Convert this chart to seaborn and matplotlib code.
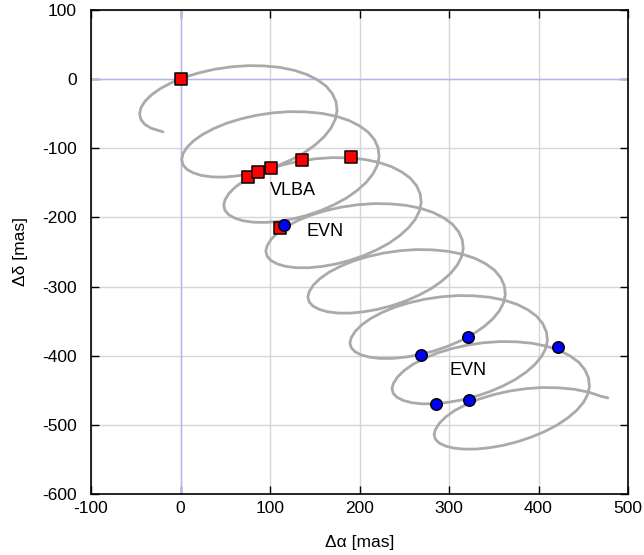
import matplotlib
matplotlib.use("Agg")
import matplotlib.pyplot as plt
import seaborn as sns
import pandas as pd

# model track (mas), one row per half loop
track_x = [-19.5, -32.9, -40.0, -44.3, -45.7,
           -44.2, -39.7, -32.3, -22.2, -9.7, 4.9, 21.2, 38.7, 56.8, 75.3, 93.5, 110.8, 126.9, 141.2, 153.2, 162.9, 169.8, 173.8,
           174.9, 173.0, 168.2, 160.7, 150.8, 138.8, 125.1, 110.2, 94.7, 78.8, 63.4, 48.7, 35.2, 23.5, 14.1, 7.0, 2.7, 1.3,
           2.8, 7.3, 14.7, 24.8, 37.3, 51.9, 68.2, 85.7, 103.8, 122.3, 140.5, 157.8, 173.9, 188.2, 200.2, 209.9, 216.8, 220.8,
           221.9, 220.0, 215.2, 207.7, 197.8, 185.8, 172.1, 157.2, 141.7, 125.8, 110.4, 95.7, 82.2, 70.5, 61.1, 54.0, 49.7, 48.3,
           49.8, 54.3, 61.7, 71.8, 84.3, 98.9, 115.2, 132.7, 150.8, 169.3, 187.5, 204.8, 220.9, 235.2, 247.2, 256.9, 263.8, 267.8,
           268.9, 267.0, 262.2, 254.7, 244.8, 232.8, 219.1, 204.2, 188.7, 172.8, 157.4, 142.7, 129.2, 117.5, 108.1, 101.0, 96.7, 95.3,
           96.8, 101.3, 108.7, 118.8, 131.3, 145.9, 162.2, 179.7, 197.8, 216.3, 234.5, 251.8, 267.9, 282.2, 294.2, 303.9, 310.8, 314.8,
           315.9, 314.0, 309.2, 301.7, 291.8, 279.8, 266.1, 251.2, 235.7, 219.8, 204.4, 189.7, 176.2, 164.5, 155.1, 148.0, 143.7, 142.3,
           143.8, 148.3, 155.7, 165.8, 178.3, 192.9, 209.2, 226.7, 244.8, 263.3, 281.5, 298.8, 314.9, 329.2, 341.2, 350.9, 357.8, 361.8,
           362.9, 361.0, 356.2, 348.7, 338.8, 326.8, 313.1, 298.2, 282.7, 266.8, 251.4, 236.7, 223.2, 211.5, 202.1, 195.0, 190.7, 189.3,
           190.8, 195.3, 202.7, 212.8, 225.3, 239.9, 256.2, 273.7, 291.8, 310.3, 328.5, 345.8, 361.9, 376.2, 388.2, 397.9, 404.8, 408.8,
           409.9, 408.0, 403.2, 395.7, 385.8, 373.8, 360.1, 345.2, 329.7, 313.8, 298.4, 283.7, 270.2, 258.5, 249.1, 242.0, 237.7, 236.3,
           237.8, 242.3, 249.7, 259.8, 272.3, 286.9, 303.2, 320.7, 338.8, 357.3, 375.5, 392.8, 408.9, 423.2, 435.2, 444.9, 451.8, 455.8,
           456.9, 455.0, 450.2, 442.7, 432.8, 420.8, 407.1, 392.2, 376.7, 360.8, 345.4, 330.7, 317.2, 305.5, 296.1, 289.0, 284.7, 283.3,
           284.8, 289.3, 296.7, 306.8, 319.3, 333.9, 350.2, 367.7, 385.8, 404.3, 422.5, 439.8, 455.9, 470.2, 477.5]
track_y = [-76.3, -70.9, -65.3, -58.2, -50.1,
           -41.3, -32.0, -22.6, -13.4, -4.9, 2.9, 9.3, 14.4, 17.8, 19.5, 19.1, 17.0, 12.8, 6.7, -1.2, -10.4, -21.3, -33.0,
           -45.5, -58.0, -70.6, -83.0, -94.8, -105.9, -115.7, -124.3, -131.2, -136.6, -139.9, -141.7, -141.4, -139.3, -135.5, -130.3, -123.7, -116.1,
           -107.8, -98.5, -89.1, -79.9, -71.4, -63.6, -57.2, -52.1, -48.7, -47.0, -47.4, -49.5, -53.7, -59.8, -67.7, -76.9, -87.8, -99.5,
           -112.0, -124.3, -136.7, -149.0, -160.6, -171.6, -181.3, -189.8, -196.8, -202.1, -205.5, -207.2, -207.0, -205.0, -201.3, -196.3, -189.8, -182.4,
           -174.3, -165.0, -155.6, -146.4, -137.9, -130.1, -123.7, -118.6, -115.2, -113.5, -113.9, -116.0, -120.2, -126.3, -134.2, -143.4, -154.3, -166.0,
           -178.5, -190.6, -202.9, -215.0, -226.5, -237.4, -247.0, -255.4, -262.3, -267.6, -271.0, -272.8, -272.7, -270.8, -267.2, -262.3, -256.0, -248.7,
           -240.8, -231.5, -222.1, -212.9, -204.4, -196.6, -190.2, -185.1, -181.7, -180.0, -180.4, -182.5, -186.7, -192.8, -200.7, -209.9, -220.8, -232.5,
           -245.0, -257.0, -269.0, -281.0, -292.3, -303.1, -312.6, -321.0, -327.8, -333.1, -336.5, -338.4, -338.3, -336.5, -333.0, -328.3, -322.1, -315.1,
           -307.3, -298.0, -288.6, -279.4, -270.9, -263.1, -256.7, -251.6, -248.2, -246.5, -246.9, -249.0, -253.2, -259.3, -267.2, -276.4, -287.3, -299.0,
           -311.5, -323.3, -335.2, -347.0, -358.2, -368.8, -378.2, -386.5, -393.3, -398.6, -402.0, -403.9, -403.9, -402.2, -398.9, -394.3, -388.3, -381.4,
           -373.8, -364.5, -355.1, -345.9, -337.4, -329.6, -323.2, -318.1, -314.7, -313.0, -313.4, -315.5, -319.7, -325.8, -333.7, -342.9, -353.8, -365.5,
           -378.0, -389.6, -401.4, -413.0, -424.1, -434.6, -443.9, -452.1, -458.8, -464.1, -467.5, -469.5, -469.6, -468.0, -464.8, -460.3, -454.5, -447.7,
           -440.3, -431.0, -421.6, -412.4, -403.9, -396.1, -389.7, -384.6, -381.2, -379.5, -379.9, -382.0, -386.2, -392.3, -400.2, -409.4, -420.3, -432.0,
           -444.5, -455.9, -467.5, -479.0, -489.9, -500.3, -509.5, -517.6, -524.3, -529.6, -533.0, -535.0, -535.1, -533.7, -530.6, -526.3, -520.6, -514.0,
           -506.8, -497.5, -488.1, -478.9, -470.4, -462.6, -456.2, -451.1, -447.7, -446.0, -446.4, -448.5, -452.7, -458.8, -461.0]

# VLBA positions (red squares)
vlba_x = [0.0, 75.8, 86.3, 100.8, 135.4, 190.2, 111.2]
vlba_y = [0.0, -141.3, -134.9, -128.3, -117.2, -112.4, -215.1]

# EVN positions (blue circles)
evn_x = [115.6, 268.7, 321.6, 421.5, 285.8, 322.0]
evn_y = [-211.0, -399.2, -372.7, -387.6, -470.1, -463.8]

sns.set_theme(style="ticks")
plt.rcParams['font.family'] = ['Liberation Sans', 'DejaVu Sans']
plt.rcParams['axes.unicode_minus'] = False
plt.rcParams['text.color'] = 'black'
plt.rcParams['axes.labelcolor'] = 'black'

fig, ax = plt.subplots(figsize=(6.44, 5.55), dpi=100)
fig.subplots_adjust(left=0.1413, right=0.9752, bottom=0.1099, top=0.982)

# grid + zero lines
ax.grid(True, color='#d6d6d6', linewidth=1.0)
ax.axhline(0, color='#b4b4f0', linewidth=1.0, zorder=1)
ax.axvline(0, color='#b4b4f0', linewidth=1.0, zorder=1)

track = pd.DataFrame({'x': track_x, 'y': track_y})
sns.lineplot(data=track, x='x', y='y', sort=False, estimator=None, ax=ax,
             color='#aaaaaa', linewidth=2.0, zorder=2)

sns.scatterplot(x=vlba_x, y=vlba_y, marker='s', s=75, color='#ff0000',
                edgecolor='black', linewidth=1.1, ax=ax, zorder=3)
sns.scatterplot(x=evn_x, y=evn_y, marker='o', s=68, color='#0000ff',
                edgecolor='black', linewidth=1.1, ax=ax, zorder=4)

ax.text(100, -160.5, 'VLBA', fontsize=13, va='center', ha='left')
ax.text(141, -220.6, 'EVN', fontsize=13, va='center', ha='left')
ax.text(300, -421.6, 'EVN', fontsize=13, va='center', ha='left')

ax.set_xlim(-100, 500)
ax.set_ylim(-600, 100)
ax.set_xticks(range(-100, 501, 100))
ax.set_yticks(range(-600, 101, 100))
ax.tick_params(direction='in', length=6, width=1, top=True, right=True,
               labelsize=12.5, colors='black')
ax.tick_params(axis='x', pad=5)
ax.tick_params(axis='y', pad=10)
for sp in ax.spines.values():
    sp.set_color('black')
    sp.set_linewidth(1.2)

ax.set_xlabel('Δα [mas]', fontsize=12.5, labelpad=14)
ax.set_ylabel('Δδ [mas]', fontsize=12.5, labelpad=10)

fig.savefig('out.png', dpi=100)
